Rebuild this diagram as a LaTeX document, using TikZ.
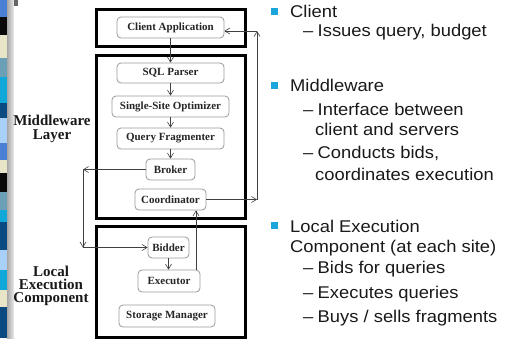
\documentclass[tikz,border=0pt]{standalone}
\usepackage{fontspec}
\usepackage{graphicx}
\setmainfont{Liberation Serif}
\newfontfamily\arialf{Liberation Sans}
\usetikzlibrary{arrows.meta}
\definecolor{sblue}{HTML}{4A80D6}
\definecolor{sblack}{HTML}{0A0A0A}
\definecolor{sbeige}{HTML}{E8E4C8}
\definecolor{steal}{HTML}{6A9FB5}
\definecolor{scyan}{HTML}{10A8D8}
\definecolor{sdark}{HTML}{0A4A80}
\definecolor{slight}{HTML}{A8D0F8}
\definecolor{bullet}{HTML}{1AA6DA}
\newcommand\wx[1]{\scalebox{1.08}[1]{#1}}
\tikzset{
  comp/.style={draw=black!40, rounded corners=4pt, line width=0.8pt, fill=white,
    font=\fontsize{11}{13}\selectfont\bfseries, text=black!85, inner sep=0pt},
  layer/.style={draw=black, line width=3pt},
  arr/.style={draw=black!75, line width=0.7pt, -{Straight Barb[length=5pt,width=6pt,line width=0.6pt]}},
  lab/.style={font=\fontsize{15}{14}\selectfont\bfseries, anchor=base, inner sep=0pt, text=black!90},
  txt/.style={font=\arialf\fontsize{17}{20}\selectfont, anchor=base west, inner sep=0pt, text=black!90},
  bul/.style={fill=bullet, minimum size=7pt, inner sep=0pt}
}
\begin{document}
\begin{tikzpicture}[x=1pt,y=-1pt]
\useasboundingbox (0,0) rectangle (508,338);
% left decorative strip
\foreach \a/\b/\c in {0/17/sblue,17/35/sblack,35/58/sbeige,58/77/steal,77/103/scyan,103/118/sdark,118/143/slight,143/160/sblue,160/173/sbeige,173/192/sblack,192/210/steal,210/222/scyan,222/250/sdark,250/270/slight,270/290/scyan,290/307/sbeige,307/338/sdark}
  \fill[\c] (0,\a) rectangle (7,\b);
\shade[left color=black!35, right color=black!8] (7,0) rectangle (14,338);
\fill[black!60] (14,0) rectangle (18,6);

% layer boxes
\node[layer, minimum width=149pt, minimum height=37pt, inner sep=0pt] (top) at (170.5,27.5) {};
\node[layer, minimum width=149pt, minimum height=163pt, inner sep=0pt] (mid) at (170.5,136.5) {};
\node[layer, minimum width=149pt, minimum height=111pt, inner sep=0pt] (loc) at (170.5,281.5) {};

% components
\node[comp, minimum width=107pt, minimum height=21pt] (ca) at (170.5,27.5) {Client Application};
\node[comp, minimum width=107pt, minimum height=20pt] (sql) at (170.5,73) {SQL Parser};
\node[comp, minimum width=117pt, minimum height=21pt] (sso) at (170.5,106.5) {Single-Site Optimizer};
\node[comp, minimum width=107pt, minimum height=21pt] (qf) at (170.5,138.5) {Query Fragmenter};
\node[comp, minimum width=49pt, minimum height=21pt] (bro) at (170.5,169.5) {Broker};
\node[comp, minimum width=71pt, minimum height=21pt] (coo) at (170.5,199.5) {Coordinator};
\node[comp, minimum width=41pt, minimum height=21pt] (bid) at (168.5,247.5) {Bidder};
\node[comp, minimum width=62pt, minimum height=22pt] (exe) at (169,281) {Executor};
\node[comp, minimum width=96pt, minimum height=22pt] (sto) at (167,316) {Storage Manager};

% labels
\node[lab] (ml1) at (52,125.5) {Middleware};
\node[lab] (ml2) at (52,139.5) {Layer};
\node[lab] (ll1) at (51,276.5) {Local};
\node[lab] (ll2) at (51,289.5) {Execution};
\node[lab] (ll3) at (51,302.5) {Component};

% connectors
\draw[arr] (ca.south) -- (sql.north);
\draw[arr] (sql.south) -- (sso.north);
\draw[arr] (sso.south) -- (qf.north);
\draw[arr] (qf.south) -- (bro.north);
\coordinate (b1) at (83,169.5);
\coordinate (b2) at (83,247.5);
\draw[arr] (bro.west) -- (b1);
\draw[arr] (b1) -- (b2);
\draw[arr] (b2) -- (bid.west);
\draw[arr] (bid.south) -- (bid.south |- exe.north);
\coordinate (ex) at (196,0);
\draw[arr] (exe.north -| ex) -- (coo.south -| ex);
\coordinate (c1) at (257,199.5);
\coordinate (c2) at (257,31);
\draw[arr] (coo.east) -- (c1);
\draw[arr] (c1) -- (c2);
\draw[arr] (c2) -- (c2 -| ca.east);

% right text
\node[bul] (b1s) at (274,11.5) {};
\node[txt] (t1) at (290,17) {\wx{Client}};
\node[txt] (t2) at (303,36) {\wx{–\hspace{4pt}Issues query, budget}};
\node[bul] (b2s) at (274,85) {};
\node[txt] (t3) at (290,91) {\wx{Middleware}};
\node[txt] (t4) at (303,115) {\wx{–\hspace{4pt}Interface between}};
\node[txt] (t5) at (315,135) {\wx{client and servers}};
\node[txt] (t6) at (303,158) {\wx{–\hspace{4pt}Conducts bids,}};
\node[txt] (t7) at (315,180) {\wx{coordinates execution}};
\node[bul] (b3s) at (274,225) {};
\node[txt] (t8) at (290,232) {\wx{Local Execution}};
\node[txt] (t9) at (290,252) {\wx{Component (at each site)}};
\node[txt] (t10) at (303,273) {\wx{–\hspace{4pt}Bids for queries}};
\node[txt] (t11) at (303,298) {\wx{–\hspace{4pt}Executes queries}};
\node[txt] (t12) at (303,322) {\wx{–\hspace{4pt}Buys / sells fragments}};
\end{tikzpicture}
\end{document}
